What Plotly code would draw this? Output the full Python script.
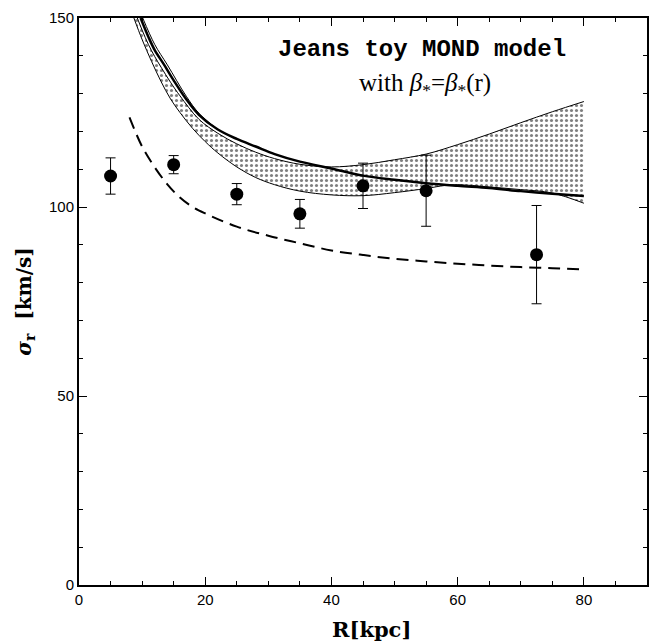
import plotly.graph_objects as go

# Observed radial velocity dispersion profile
R_obs = [5, 15, 25, 35, 45, 55, 72.5]
sigma_obs = [108.2, 111.2, 103.4, 98.2, 105.6, 104.3, 87.4]
sigma_err = [4.8, 2.4, 2.8, 3.8, 6.0, 9.4, 13.0]

# Dashed model curve
R_dash = [8, 10, 12, 14, 16, 18, 20, 25, 30, 35, 40, 45, 50, 55, 60, 65, 70, 75, 80]
sigma_dash = [123.7, 116.0, 110.5, 106.0, 102.5, 100.0, 98.3, 94.8, 92.4, 90.4,
              88.5, 87.3, 86.3, 85.6, 85.0, 84.5, 84.1, 83.8, 83.5]

# Shaded band: lower and upper envelopes of the beta_*(r) models
R_low = [8.7, 10, 11.5, 13, 14.5, 16, 18, 20, 22, 25, 28, 31, 35, 40, 45, 50,
         55, 58, 60, 65, 70, 75, 80]
sigma_low = [150, 144.3, 138.5, 133.2, 128.6, 125.0, 120.8, 117.3, 114.3, 110.6,
             107.8, 105.9, 104.2, 103.2, 103.0, 103.8, 104.9, 105.7, 105.9, 105.3,
             104.6, 103.7, 101.0]
R_up = [9.24, 10, 11, 12, 13, 14.5, 16, 19, 22, 25, 28, 31, 35, 40, 45, 50, 55,
        60, 65, 70, 75, 80]
sigma_up = [150, 146.8, 143.0, 139.8, 137.0, 133.0, 129.4, 123.2, 119.5, 116.7,
            114.5, 112.8, 111.3, 110.6, 111.2, 112.5, 114.0, 116.5, 119.3, 122.3,
            125.2, 127.9]

# Thick solid model curve
R_thick = [9.76, 11, 12, 13.5, 15, 17, 19, 22, 25, 28, 31, 35, 40, 45, 50, 55,
           60, 65, 70, 75, 80]
sigma_thick = [150, 145.0, 141.5, 137.6, 133.5, 128.5, 124.4, 120.5, 118.0, 116.0,
               114.0, 112.0, 110.2, 108.3, 107.2, 106.3, 105.6, 105.0, 104.2,
               103.5, 102.9]

# Thin companion curve at small radii
R_thin = [10.1, 12, 14, 17, 19, 22]
sigma_thin = [150, 143.0, 137.6, 129.3, 124.8, 120.5]

fig = go.Figure()

# dotted band
fig.add_trace(go.Scatter(
    x=R_low + R_up[::-1], y=sigma_low + sigma_up[::-1],
    mode="lines", fill="toself", line=dict(width=0, color="black"),
    fillcolor="white",
    fillpattern=dict(shape=".", fgcolor="black", bgcolor="white",
                     size=5, solidity=0.3),
    hoverinfo="skip", showlegend=False))

for xs, ys in [(R_low, sigma_low), (R_up, sigma_up), (R_thin, sigma_thin)]:
    fig.add_trace(go.Scatter(x=xs, y=ys, mode="lines",
                             line=dict(color="black", width=1, shape="spline"),
                             showlegend=False))

fig.add_trace(go.Scatter(x=R_thick, y=sigma_thick, mode="lines",
                         line=dict(color="black", width=2.5, shape="spline"),
                         showlegend=False))

fig.add_trace(go.Scatter(x=R_dash, y=sigma_dash, mode="lines",
                         line=dict(color="black", width=2, dash="12px,7px",
                                   shape="spline"),
                         showlegend=False))

fig.add_trace(go.Scatter(
    x=R_obs, y=sigma_obs, mode="markers",
    marker=dict(color="black", size=13),
    error_y=dict(type="data", array=sigma_err, color="black",
                 thickness=1, width=5),
    showlegend=False))

fig.add_annotation(x=54.3, y=141.8, xref="x", yref="y",
                   text="<b>Jeans toy MOND model</b>", showarrow=False,
                   font=dict(family="Liberation Mono", size=24, color="black"))
fig.add_annotation(x=54.8, y=132.3, xref="x", yref="y",
                   text="with <i>β</i><sub>*</sub>=<i>β</i><sub>*</sub>(r)",
                   showarrow=False,
                   font=dict(family="Liberation Serif", size=25, color="black"))

# x-axis title
fig.add_annotation(x=46.3, y=-0.079, xref="x", yref="paper",
                   text="<b>R[kpc]</b>", showarrow=False, yanchor="middle",
                   font=dict(family="DejaVu Serif", size=21, color="black"))

axis_common = dict(showgrid=False, zeroline=False, showline=True,
                   linecolor="black", linewidth=2, mirror="allticks",
                   ticks="inside", tickcolor="black", tickwidth=1,
                   ticklen=8,
                   tickfont=dict(family="Liberation Sans", size=15,
                                 color="black"))

fig.update_xaxes(range=[0, 90], dtick=20, tick0=0,
                 minor=dict(dtick=5, ticks="inside", ticklen=4,
                            tickcolor="black", tickwidth=1),
                 **axis_common)
fig.update_yaxes(range=[0, 150], dtick=50, tick0=0,
                 minor=dict(dtick=10, ticks="inside", ticklen=4,
                            tickcolor="black", tickwidth=1),
                 title=dict(text="<b><i>σ</i><sub>r</sub>  [km/s]</b>",
                            standoff=12,
                            font=dict(family="DejaVu Serif", size=20,
                                      color="black")),
                 **axis_common)

fig.update_layout(width=650, height=642, paper_bgcolor="white",
                  plot_bgcolor="white",
                  margin=dict(l=79, r=1, t=18, b=57))

fig.write_html("out.html")
